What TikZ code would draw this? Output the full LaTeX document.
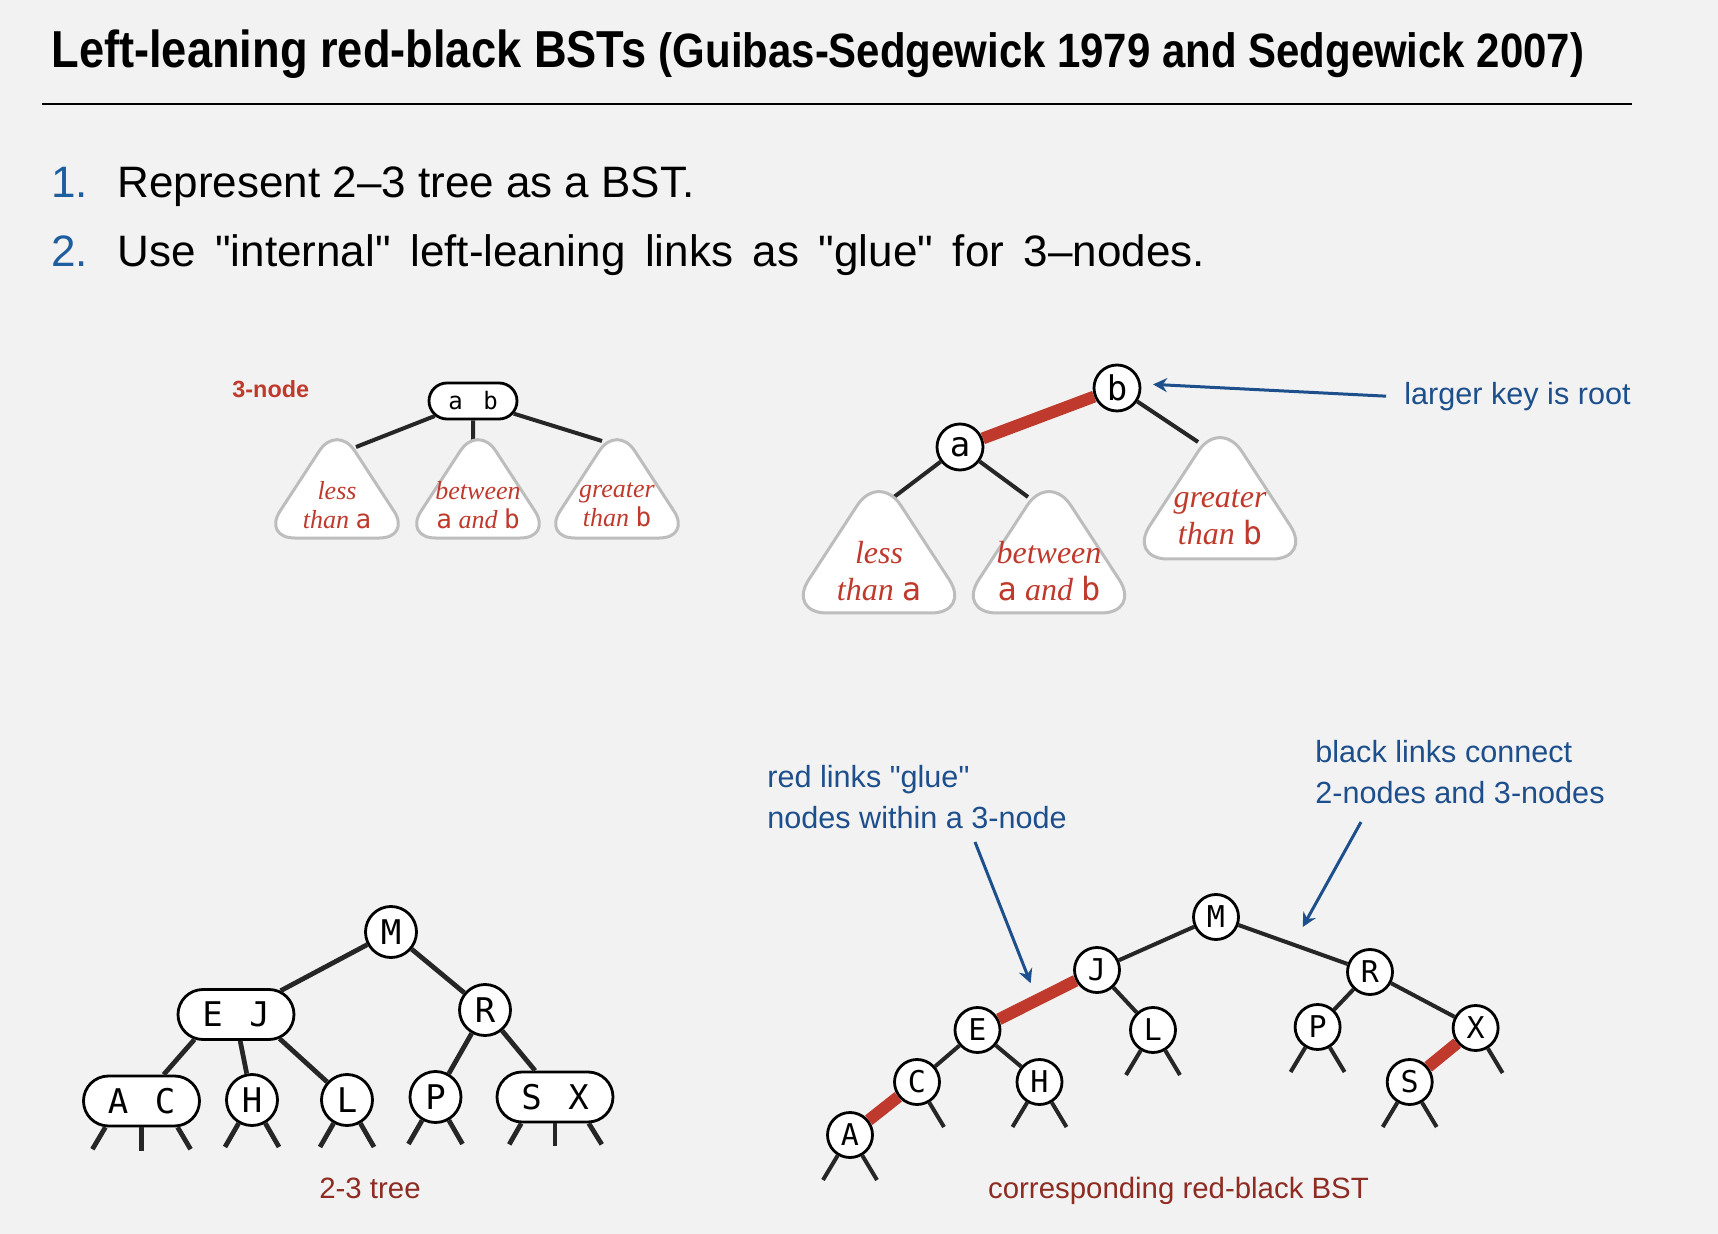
\documentclass[tikz,border=0pt]{standalone}
\usepackage{fontspec}
\setmainfont{Liberation Sans}
\newfontfamily\titlefont[FakeStretch=0.87]{Liberation Sans}
\newfontfamily\keyfont{DejaVu Sans Mono}
\newfontfamily\wordfont{Liberation Serif}
\newfontfamily\plainsans{Liberation Sans}
\usetikzlibrary{arrows.meta,calc,shapes.misc}

\definecolor{slidebg}{HTML}{F2F2F2}
\definecolor{rbred}{HTML}{BF3A2C}
\definecolor{capred}{HTML}{8E2B22}
\definecolor{noteblue}{HTML}{1D4F8C}
\definecolor{numblue}{HTML}{1F5E9E}
\definecolor{treegray}{HTML}{BDBDBD}

% two keys of a 3-node, evenly spaced
\newcommand\twokeys[4]{\makebox[#1]{#3}\hspace{#2}\makebox[#1]{#4}}
% straight double quote
\newcommand\dquote{{\plainsans"}}

\tikzset{
  blacklink/.style={line width=2pt, black!85},
  fatlink/.style={line width=2.4pt, black!85},
  redlink/.style={line width=6pt, rbred},
  keynode/.style={circle, draw, fill=white, line width=1.4pt, inner sep=0pt},
  keypair/.style={rounded rectangle, draw, fill=white, line width=1.4pt, inner sep=0pt},
  key23/.style={keynode, minimum size=25.5pt, font=\keyfont\fontsize{17}{20}\selectfont},
  pair23/.style={keypair, minimum width=58pt, minimum height=25pt, font=\keyfont\fontsize{17}{20}\selectfont},
  keyrb/.style={keynode, minimum size=22.5pt, font=\keyfont\fontsize{15}{18}\selectfont},
  subtree/.style={draw=treegray, fill=white, line width=1.5pt},
  subtext/.style={text=rbred, align=center, inner sep=0pt},
  itemtext/.style={anchor=base west, inner sep=0pt, font=\fontsize{22}{26}\selectfont},
  notetext/.style={text=noteblue, inner sep=0pt, font=\fontsize{15.3}{20.5}\selectfont},
  notearrow/.style={noteblue, line width=1.5pt, -{Stealth[length=7pt,width=7pt]}},
  captext/.style={text=capred, inner sep=0pt, anchor=base, font=\fontsize{14.7}{17}\selectfont},
}

\begin{document}
\begin{tikzpicture}[x=0.5pt,y=-0.5pt]
    % Fond
    \fill[slidebg] (0,0) rectangle (1718,1234);
    \useasboundingbox (0,0) rectangle (1718,1234);
    % Titre
    \node[anchor=base west, inner sep=0pt, font=\titlefont\bfseries\fontsize{26}{30}\selectfont] (title) at (51,68)
        {Left-leaning red-black BSTs {\fontsize{24.1}{28}\selectfont (Guibas-Sedgewick 1979 and Sedgewick 2007)}};
    \draw[line width=1pt] (42,104) -- (1632,104);
    % Points
    \node[itemtext, text=numblue] (num1) at (51,198) {1.};
    \node[itemtext] (item1) at (117,198) {Represent 2–3 tree as a BST.};
    \node[itemtext, text=numblue] (num2) at (51,267) {2.};
    \node[itemtext] (item2) at (117,267)
        {\spaceskip=9.8pt Use \dquote internal\dquote{} left-leaning links as \dquote glue\dquote{} for 3–nodes.};

    % 3-node
    \node[anchor=base west, inner sep=0pt, text=rbred, font=\bfseries\fontsize{11.7}{14}\selectfont] (three) at (232,398) {3-node};
    \node[keypair, minimum width=44pt, minimum height=18pt, font=\keyfont\fontsize{12}{14}\selectfont] (ab) at (473,401)
        {\twokeys{8pt}{9.5pt}{a}{b}};
    \coordinate (lt) at (356,447);
    \coordinate (bt) at (473,442);
    \coordinate (gt) at (602,441);
    \draw[blacklink] (ab) -- (lt);
    \draw[blacklink] (ab) -- (bt);
    \draw[blacklink] (ab) -- (gt);

    % Arbre rouge-noir du 3-node
    \node[keynode, minimum size=23pt, font=\keyfont\fontsize{17}{20}\selectfont] (b) at (1117,388) {b};
    \node[keynode, minimum size=23pt, font=\keyfont\fontsize{17}{20}\selectfont] (a) at (960,447) {a};
    \coordinate (lt2) at (894,497);
    \coordinate (bt2) at (1028,497);
    \coordinate (gt2) at (1198,442);
    \draw[redlink] (a) -- (b);
    \draw[blacklink] (a) -- (lt2);
    \draw[blacklink] (a) -- (bt2);
    \draw[blacklink] (b) -- (gt2);

    % Sous-arbres
    \foreach \cx/\ty/\sc in {337/440/0.81, 478/440/0.81, 617/440/0.81, 879/492/1, 1049/492/1, 1220/438/1}
        \draw[subtree, rounded corners=\sc*20pt] (\cx,\ty-20*\sc) -- (\cx+92*\sc,\ty+121*\sc)
            -- (\cx-92*\sc,\ty+121*\sc) -- cycle;
    \node[subtext, font=\wordfont\itshape\fontsize{13}{14.5}\selectfont] (less) at (337,505)
        {less\\than {\keyfont\upshape a}};
    \node[subtext, font=\wordfont\itshape\fontsize{13}{14.5}\selectfont] (between) at (478,505)
        {between\\{\keyfont\upshape a} and {\keyfont\upshape b}};
    \node[subtext, font=\wordfont\itshape\fontsize{13}{14.5}\selectfont] (greater) at (617,505)
        {greater\\than {\keyfont\upshape b}};
    \node[subtext, font=\wordfont\itshape\fontsize{16}{18.5}\selectfont] (less2) at (879,571)
        {less\\than {\keyfont\upshape a}};
    \node[subtext, font=\wordfont\itshape\fontsize{16}{18.5}\selectfont] (between2) at (1049,571)
        {between\\{\keyfont\upshape a} and {\keyfont\upshape b}};
    \node[subtext, font=\wordfont\itshape\fontsize{16}{18.5}\selectfont] (greater2) at (1220,517)
        {greater\\than {\keyfont\upshape b}};

    % Racine
    \node[notetext, anchor=base west] (root) at (1404,405) {larger key is root};
    \draw[notearrow, shorten <=9pt, shorten >=6pt] (root.west) -- (b.10);

    % Arbre 2-3
    \node[key23] (tM) at (391,932) {M};
    \node[pair23] (tEJ) at (236,1014.5) {\twokeys{10pt}{13.5pt}{E}{J}};
    \node[key23] (tR) at (485,1010) {R};
    \node[pair23] (tAC) at (141.5,1101) {\twokeys{10pt}{13.5pt}{A}{C}};
    \node[key23] (tH) at (252,1100) {H};
    \node[key23] (tL) at (347,1100) {L};
    \node[key23] (tP) at (435.5,1097) {P};
    \node[pair23] (tSX) at (555,1097) {\twokeys{10pt}{13.5pt}{S}{X}};
    \draw[fatlink] (tM) -- (tEJ);
    \draw[fatlink] (tM) -- (tR);
    \draw[fatlink] (tEJ.211) -- (tAC.50);
    \draw[fatlink] (tEJ.-81) -- (tH);
    \draw[fatlink] (tEJ.-29) -- (tL);
    \draw[fatlink] (tR) -- (tP);
    \draw[fatlink] (tR) -- (tSX.127);
    % feuilles
    \foreach \n in {tH,tL,tP} {
        \draw[fatlink] (\n) -- ++(-27,47);
        \draw[fatlink] (\n) -- ++(27,47);
    }
    \draw[fatlink] (tAC.216) -- ++(-13,22);
    \draw[fatlink] (tAC.south) -- ++(0,24);
    \draw[fatlink] (tAC.-36) -- ++(13,22);
    \draw[fatlink] (tSX.218) -- ++(-12,21);
    \draw[fatlink] (tSX.south) -- ++(0,23);
    \draw[fatlink] (tSX.-38) -- ++(13,21);
    \node[captext] (cap23) at (370,1198) {2-3 tree};

    % Arbre rouge-noir
    \node[keyrb] (rbM) at (1216,917) {M};
    \node[keyrb] (rbJ) at (1097,970) {J};
    \node[keyrb] (rbR) at (1370,972) {R};
    \node[keyrb] (rbE) at (977.5,1030) {E};
    \node[keyrb] (rbL) at (1153,1030) {L};
    \node[keyrb] (rbP) at (1317.6,1027) {P};
    \node[keyrb] (rbX) at (1475.6,1028) {X};
    \node[keyrb] (rbC) at (917,1082) {C};
    \node[keyrb] (rbH) at (1039.5,1082) {H};
    \node[keyrb] (rbS) at (1409.7,1082) {S};
    \node[keyrb] (rbA) at (850,1135) {A};
    \draw[blacklink] (rbM) -- (rbJ);
    \draw[blacklink] (rbM) -- (rbR);
    \draw[blacklink] (rbJ) -- (rbL);
    \draw[blacklink] (rbE) -- (rbC);
    \draw[blacklink] (rbE) -- (rbH);
    \draw[blacklink] (rbR) -- (rbP);
    \draw[blacklink] (rbR) -- (rbX);
    \draw[redlink] (rbJ) -- (rbE);
    \draw[redlink] (rbC) -- (rbA);
    \draw[redlink] (rbX) -- (rbS);
    % feuilles
    \foreach \n in {rbA,rbH,rbL,rbP,rbS} {
        \draw[blacklink] (\n) -- ++(-27,45);
        \draw[blacklink] (\n) -- ++(27,45);
    }
    \draw[blacklink] (rbC) -- ++(27,45);
    \draw[blacklink] (rbX) -- ++(27,45);
    \node[captext] (caprb) at (1178.5,1198) {corresponding red-black BST};

    % Notes
    \node[notetext, anchor=base west, align=left] (glue) at (767,828)
        {red links \dquote glue\dquote\\nodes within a 3-node};
    \node[notetext, anchor=base west, align=left] (connect) at (1315,803)
        {black links connect\\2-nodes and 3-nodes};
    \coordinate (glueFrom) at (975,842);
    \coordinate (connectFrom) at (1361,822);
    \draw[notearrow, shorten >=9pt] (glueFrom) -- ($(rbJ)!0.5!(rbE)$);
    \draw[notearrow, shorten >=10pt] (connectFrom) -- ($(rbM)!0.5!(rbR)$);
\end{tikzpicture}
\end{document}
